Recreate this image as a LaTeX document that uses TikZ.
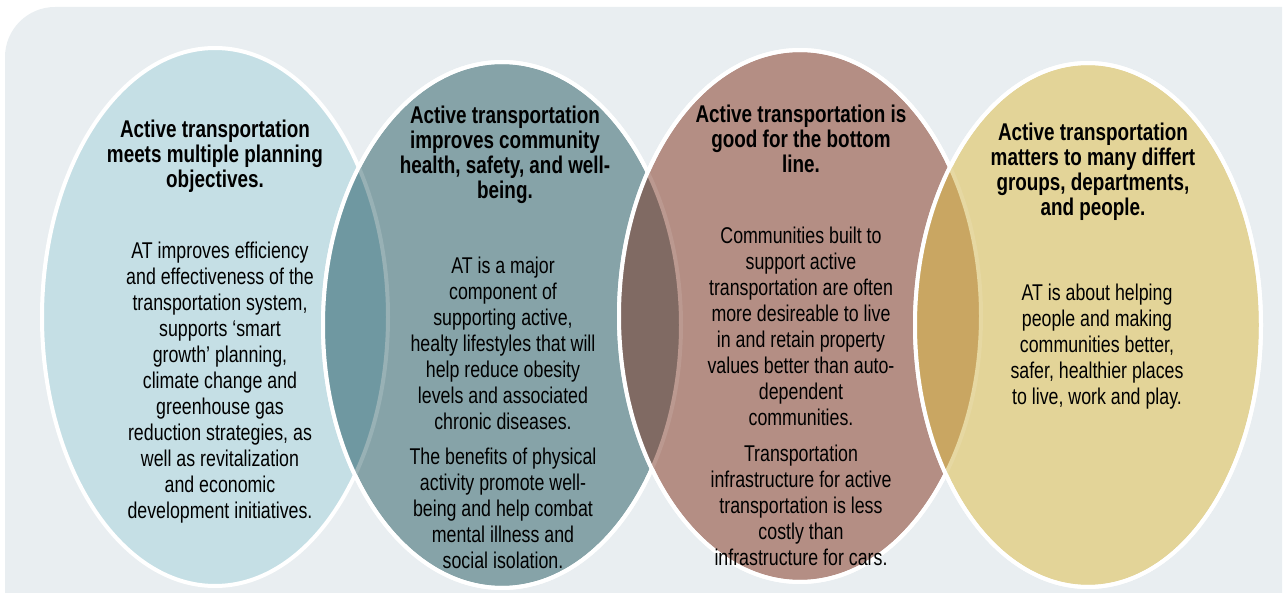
\documentclass[tikz,border=0pt]{standalone}
\usepackage{fontspec}
\setmainfont{Liberation Sans}[FakeStretch=0.78]
\definecolor{panel}{HTML}{E9EEF1}
\definecolor{bluefill}{HTML}{C5DFE5}
\definecolor{tealfill}{HTML}{86A3A8}
\definecolor{rosefill}{HTML}{B48E84}
\definecolor{tanfill}{HTML}{E3D498}
\definecolor{tealdark}{HTML}{6F98A1}
\definecolor{rosedark}{HTML}{806A63}
\definecolor{tandark}{HTML}{C9A662}
\begin{document}
\begin{tikzpicture}[x=0.5pt,y=-0.5pt,
  bubble/.style={fill=#1,draw=white,line width=2pt},
  rim/.style={draw=white,line width=2pt},
  lens/.style={fill=#1},
  ghost/.style={draw=#1,line width=2pt},
  title/.style={align=center,inner sep=0pt,font=\fontsize{12.1}{12.5}\selectfont\bfseries},
  body/.style={align=center,inner sep=0pt,font=\fontsize{11.4}{13}\selectfont}]
\useasboundingbox (0,0) rectangle (1287,593);
\fill[panel] (1282,593) -- (5,593) [rounded corners=25pt] -- (5,7) [sharp corners] -- (1282,7) -- cycle;
% the four bubbles
\draw[bubble=bluefill] (215,317) ellipse [x radius=173, y radius=269];
\draw[bubble=tealfill] (502,325) ellipse [x radius=179, y radius=263];
\begin{scope}
\clip (502,325) ellipse [x radius=179, y radius=263];
\fill[lens=tealdark] (215,317) ellipse [x radius=173, y radius=269];
\draw[ghost=tealfill!85!white] (215,317) ellipse [x radius=173, y radius=269];
\end{scope}
\draw[rim] (502,325) ellipse [x radius=179, y radius=263];
\draw[bubble=rosefill] (800,316) ellipse [x radius=181, y radius=266];
\begin{scope}
\clip (800,316) ellipse [x radius=181, y radius=266];
\fill[lens=rosedark] (502,325) ellipse [x radius=179, y radius=263];
\draw[ghost=rosefill!90!white] (502,325) ellipse [x radius=179, y radius=263];
\end{scope}
\draw[rim] (800,316) ellipse [x radius=181, y radius=266];
\draw[bubble=tanfill] (1088,325) ellipse [x radius=173, y radius=262];
\begin{scope}
\clip (1088,325) ellipse [x radius=173, y radius=262];
\fill[lens=tandark] (800,316) ellipse [x radius=181, y radius=266];
\draw[ghost=tanfill!90!white] (800,316) ellipse [x radius=181, y radius=266];
\end{scope}
\draw[rim] (1088,325) ellipse [x radius=173, y radius=262];
% texts
\node[title] (planning) at (215,156) {Active transportation\\meets multiple planning\\objectives.};
\node[body] (efficiency) at (220,383) {AT improves efficiency\\and effectiveness of the\\transportation system,\\supports ‘smart\\growth’ planning,\\climate change and\\greenhouse gas\\reduction strategies, as\\well as revitalization\\and economic\\development initiatives.};
\node[title] (health) at (505,155) {Active transportation\\improves community\\health, safety, and well-\\being.};
\node[body] (lifestyles) at (503,343) {AT is a major\\component of\\supporting active,\\healty lifestyles that will\\help reduce obesity\\levels and associated\\chronic diseases.};
\node[body] (wellbeing) at (503,508) {The benefits of physical\\activity promote well-\\being and help combat\\mental illness and\\social isolation.};
\node[title] (bottomline) at (801,139) {Active transportation is\\good for the bottom\\line.};
\node[body] (property) at (801,326) {Communities built to\\support active\\transportation are often\\more desireable to live\\in and retain property\\values better than auto-\\dependent\\communities.};
\node[body] (costly) at (801,505) {Transportation\\infrastructure for active\\transportation is less\\costly than\\infrastructure for cars.};
\node[title] (groups) at (1093,172) {Active transportation\\matters to many differt\\groups, departments,\\and people.};
\node[body] (places) at (1097,347) {AT is about helping\\people and making\\communities better,\\safer, healthier places\\to live, work and play.};
\end{tikzpicture}
\end{document}
